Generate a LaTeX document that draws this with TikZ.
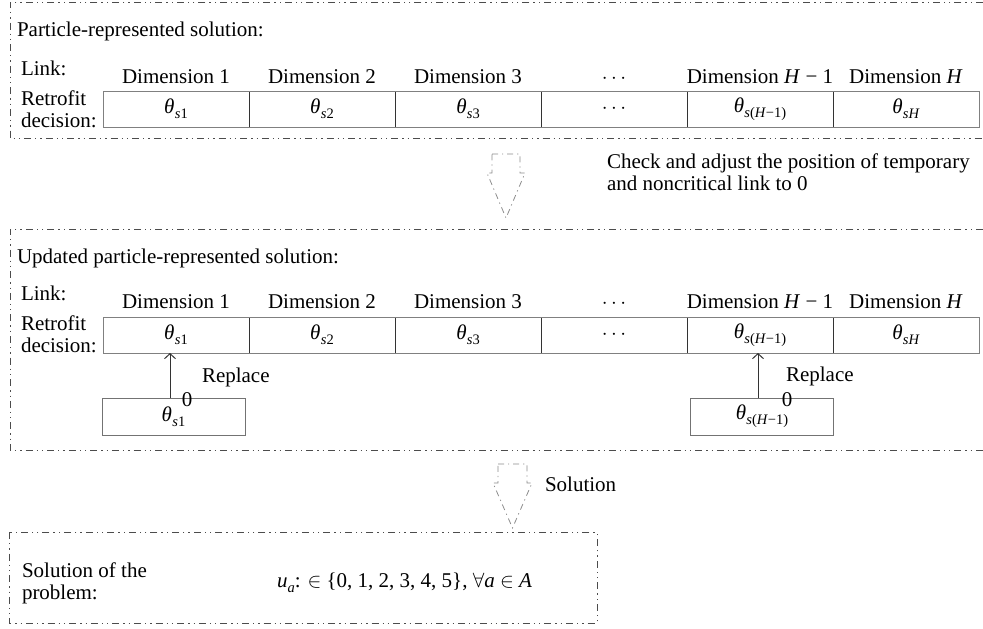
\documentclass[tikz,border=0pt]{standalone}
\usepackage{fontspec}
\setmainfont{Liberation Serif}
\usetikzlibrary{arrows.meta}
\newcommand\mysub[1]{\raisebox{-0.25em}{\fontsize{14.5}{15}\selectfont #1}}
\newcommand\thsub[1]{\textit{θ}\kern0.3pt\mysub{#1}}
\begin{document}
\begin{tikzpicture}[x=1pt,y=-1pt,
 every node/.style={inner sep=0pt, outer sep=0pt, font=\fontsize{21}{25}\selectfont},
 frame/.style={draw=black!70, line width=0.9pt, dash pattern=on 7pt off 4pt on 1.3pt off 4pt on 1.3pt off 4pt},
 harrow/.style={draw=black!45, line width=0.8pt, dash pattern=on 6pt off 4pt on 1.2pt off 4pt},
 cell/.style={minimum width=146pt, minimum height=36pt},
 outer/.style={draw=black!50, line width=1pt},
 divider/.style={draw=black!80, line width=1pt},
 txt/.style={anchor=base west},
 dimlab/.style={anchor=base},
 repl/.style={draw=black!80, line width=1pt, -{Straight Barb[length=5pt,width=11pt]}},
 smallbox/.style={draw=black!55, line width=1pt, minimum width=143pt, minimum height=37pt},
]
\useasboundingbox (0,0) rectangle (983,629);

% ---------- first frame ----------
\draw[frame] (983,2) -- (10,2) -- (10,138) -- (983,138);
\node[txt] (t1) at (17,36) {Particle-represented solution:};
\node[txt] (l1) at (21,75) {Link:};
\node[txt] (r1a) at (21,105) {Retrofit};
\node[txt] (r1b) at (21,127) {decision:};

\node[dimlab] (d1-1) at (176,83) {Dimension 1};
\node[dimlab] (d1-2) at (322,83) {Dimension 2};
\node[dimlab] (d1-3) at (468,83) {Dimension 3};
\node[dimlab] (d1-4) at (614,83) {$\cdots$};
\node[dimlab] (d1-5) at (760,83) {Dimension \textit{H} − 1};
\node[dimlab] (d1-6) at (906,83) {Dimension \textit{H}};

\node[cell] (c1-1) at (176,109) {\thsub{\textit{s}1}};
\node[cell] (c1-2) at (322,109) {\thsub{\textit{s}2}};
\node[cell] (c1-3) at (468,109) {\thsub{\textit{s}3}};
\node[cell] (c1-4) at (614,109) {$\cdots$};
\node[cell] (c1-5) at (760,109) {\thsub{\textit{s}(\textit{H}−1)}};
\node[cell] (c1-6) at (906,109) {\thsub{\textit{sH}}};
\foreach \k in {1,...,5} \draw[divider] (c1-\k.north east) -- (c1-\k.south east);
\draw[outer] (c1-1.north west) rectangle (c1-6.south east);

% ---------- hollow arrow 1 ----------
\draw[harrow] (492,154) -- (520,154) -- (520,173) -- (525,173) -- (506,218) -- (487,173) -- (492,173) -- cycle;
\node[txt] (chk1) at (607,168) {Check and adjust the position of temporary};
\node[txt] (chk2) at (607,190) {and noncritical link to 0};

% ---------- second frame ----------
\draw[frame] (983,229) -- (10,229) -- (10,450) -- (983,450);
\node[txt] (t2) at (17,263) {Updated particle-represented solution:};
\node[txt] (l2) at (21,300) {Link:};
\node[txt] (r2a) at (21,330) {Retrofit};
\node[txt] (r2b) at (21,352) {decision:};

\node[dimlab] (d2-1) at (176,308) {Dimension 1};
\node[dimlab] (d2-2) at (322,308) {Dimension 2};
\node[dimlab] (d2-3) at (468,308) {Dimension 3};
\node[dimlab] (d2-4) at (614,308) {$\cdots$};
\node[dimlab] (d2-5) at (760,308) {Dimension \textit{H} − 1};
\node[dimlab] (d2-6) at (906,308) {Dimension \textit{H}};

\node[cell] (c2-1) at (176,335) {\thsub{\textit{s}1}};
\node[cell] (c2-2) at (322,335) {\thsub{\textit{s}2}};
\node[cell] (c2-3) at (468,335) {\thsub{\textit{s}3}};
\node[cell] (c2-4) at (614,335) {$\cdots$};
\node[cell] (c2-5) at (760,335) {\thsub{\textit{s}(\textit{H}−1)}};
\node[cell] (c2-6) at (906,335) {\thsub{\textit{sH}}};
\foreach \k in {1,...,5} \draw[divider] (c2-\k.north east) -- (c2-\k.south east);
\draw[outer] (c2-1.north west) rectangle (c2-6.south east);

\node[smallbox] (b1) at (173.5,416.5) {\thsub{\textit{s}1}};
\node[smallbox] (b2) at (762,416.5) {\thsub{\textit{s}(\textit{H}−1)}};
\coordinate (ax1) at (170,0);
\coordinate (ax2) at (758,0);
\draw[repl] (b1.north -| ax1) -- (c2-1.south -| ax1);
\draw[repl] (b2.north -| ax2) -- (c2-5.south -| ax2);
\node[txt] (rp1) at (202,382) {Replace};
\node[txt] (rp2) at (786,381) {Replace};
\node (z1) at (187,400) {0};
\node (z2) at (787,400) {0};

% ---------- hollow arrow 2 ----------
\draw[harrow] (498,464) -- (527,464) -- (527,483) -- (532,483) -- (512.5,528) -- (493,483) -- (498,483) -- cycle;
\node[txt] (sol) at (545,491) {Solution};

% ---------- bottom frame ----------
\draw[frame] (9,532) rectangle (597,623);
\node[txt] (s1) at (22,577) {Solution of the};
\node[txt] (s2) at (22,599) {problem:};
\node[txt] (form) at (277,587) {\textit{u}\mysub{\textit{a}}: $\in$ \{0, 1, 2, 3, 4, 5\}, $\forall$\textit{a} $\in$ \textit{A}};
\end{tikzpicture}
\end{document}
